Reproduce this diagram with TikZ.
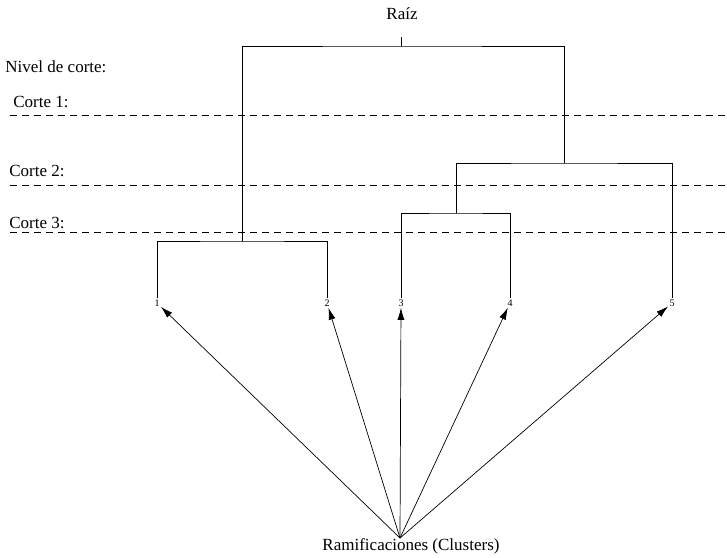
\documentclass[tikz,border=0pt]{standalone}
\usepackage{fontspec}
\setmainfont{Liberation Serif}
\usetikzlibrary{arrows.meta}

\begin{document}
\begin{tikzpicture}[x=1pt,y=1pt,line width=0.8pt]
\tikzset{every node/.style={inner sep=1pt,font=\fontsize{17}{19}\selectfont},
  leaf/.style={font=\fontsize{10}{11}\selectfont},
  corte/.style={dashed,dash pattern=on 7pt off 5pt},
  flecha/.style={-{Latex[length=12pt,width=7pt]},line width=0.7pt}}
\useasboundingbox (0,0) rectangle (727,-557);
% niveles de corte
\node [anchor=west] (nivel) at (4,-67) {Nivel de corte:};
\node [anchor=west] (c1) at (12,-102) {Corte 1:};
\node [anchor=west] (c2) at (8,-171) {Corte 2:};
\node [anchor=west] (c3) at (8,-223) {Corte 3:};
\draw [corte] (10,-115) -- (727,-115);
\draw [corte] (10,-185) -- (727,-185);
\draw [corte] (10,-232) -- (727,-232);
% hojas
\node [leaf] (l1) at (157,-303) {1};
\node [leaf] (l2) at (327,-303) {2};
\node [leaf] (l3) at (401,-303) {3};
\node [leaf] (l4) at (510,-303) {4};
\node [leaf] (l5) at (672,-303) {5};
% uniones
\coordinate (top12) at (242,-241);
\coordinate (top34) at (456,-213);
\coordinate (top345) at (564,-163);
\coordinate (root) at (401,-46);
\draw (l1.north) |- (top12) -| (l2.north);
\draw (l3.north) |- (top34) -| (l4.north);
\draw (top34) |- (top345) -| (l5.north);
\draw (top12) |- (root) -| (top345);
\draw (root) -- ++(0,9);
\node (raiz) at (402,-14) {Ra\'iz};
% ramificaciones
\node (ram) at (411,-546) {Ramificaciones (Clusters)};
\coordinate (src) at (400,-538);
\draw [flecha] (src) -- (l1);
\draw [flecha] (src) -- (l2);
\draw [flecha] (src) -- (l3);
\draw [flecha] (src) -- (l4);
\draw [flecha] (src) -- (l5);
\end{tikzpicture}
\end{document}
